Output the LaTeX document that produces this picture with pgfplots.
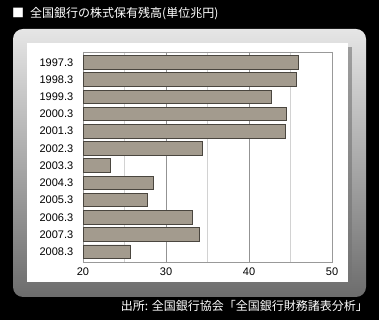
\documentclass[border=0pt]{standalone}
\usepackage{pgfplots}
\pgfplotsset{compat=1.18}
\usepackage{fontspec}
\setmainfont{Liberation Sans}
\newfontfamily\cjk{Noto Sans CJK JP}
\definecolor{barfill}{HTML}{A39B8E}
\definecolor{bardraw}{HTML}{4A463F}
\begin{document}
\begin{tikzpicture}
\fill[black] (0pt,0pt) rectangle (379pt,320pt);
\shade[top color=white!80!gray, bottom color=gray!85!black, rounded corners=10pt] (13pt,23pt) rectangle (366pt,291pt);
\fill[black!55, opacity=0.6] (31pt,34pt) rectangle (352pt,273pt);
\fill[white] (27pt,38pt) rectangle (348pt,277pt);
\node[anchor=west, text=white, font=\cjk\fontsize{12}{14}\selectfont, inner sep=0] at (12pt,306pt) {■\hspace{6pt}全国銀行の株式保有残高(単位兆円)};
\node[anchor=east, text=white, font=\cjk\fontsize{12}{14}\selectfont, inner sep=0] at (368pt,14pt) {出所: 全国銀行協会「全国銀行財務諸表分析」};
\begin{axis}[
  at={(83pt,58pt)}, anchor=south west,
  scale only axis, width=249pt, height=210pt,
  xbar, bar width=13.5pt,
  xmin=20, xmax=50,
  ymin=-0.6, ymax=11.6,
  y dir=reverse,
  xtick={20,30,40,50},
  minor xtick={25,35,45},
  ytick={0,...,11},
  yticklabels={1997.3,1998.3,1999.3,2000.3,2001.3,2002.3,2003.3,2004.3,2005.3,2006.3,2007.3,2008.3},
  xmajorgrids, xminorgrids,
  major grid style={gray!85, line width=0.6pt},
  minor grid style={gray!35, line width=0.6pt},
  axis line style={gray!80, line width=0.8pt},
  tick style={draw=none},
  ticklabel style={font=\fontsize{11}{13}\selectfont},
  /pgf/number format/assume math mode=true,
  xticklabel style={yshift=-2pt},
  yticklabel style={xshift=-2pt},
]
\addplot[fill=barfill, draw=bardraw, line width=0.8pt] coordinates {
(46.0,0) (45.7,1) (42.7,2) (44.5,3) (44.4,4) (34.4,5) (23.3,6) (28.5,7) (27.8,8) (33.2,9) (34.0,10) (25.7,11)
};
\end{axis}
\end{tikzpicture}
\end{document}
